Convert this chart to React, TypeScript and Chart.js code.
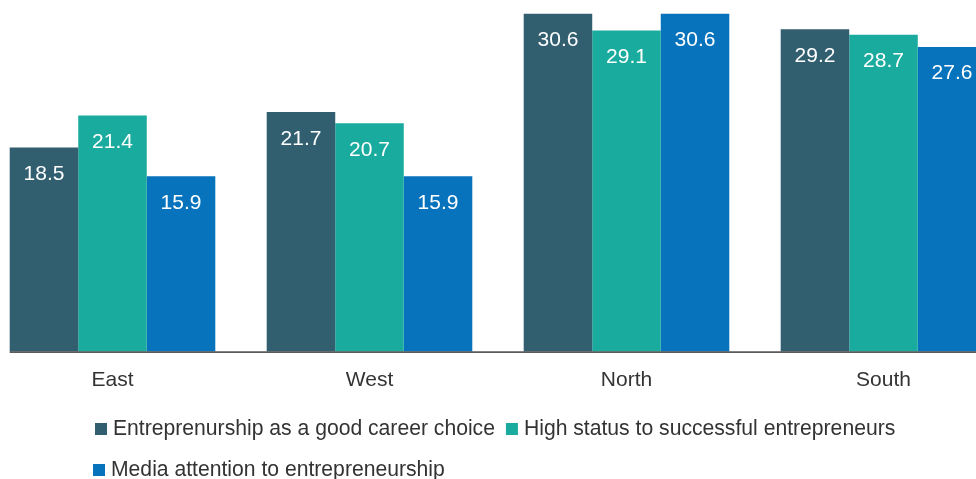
import React, { useEffect, useRef } from "react";
import { Chart, registerables } from "chart.js";

Chart.register(...registerables);

const categories = ["East", "West", "North", "South"];
const seriesNames = [
  "Entreprenurship as a good career choice",
  "High status to successful entrepreneurs",
  "Media attention to entrepreneurship",
];
const careerChoice = [18.5, 21.7, 30.6, 29.2];
const highStatus = [21.4, 20.7, 29.1, 28.7];
const mediaAttention = [15.9, 15.9, 30.6, 27.6];
const seriesColors = ["#325f70", "#1aab9f", "#0773bc"];

const FONT = "'Liberation Sans', Arial, Helvetica, sans-serif";
const CANVAS_LEFT = -16;
const CANVAS_W = 1028;
const CANVAS_H = 479;

const valueLabelPlugin = {
  id: "valueLabels",
  afterDatasetsDraw(chart: any) {
    const ctx = chart.ctx;
    ctx.save();
    ctx.font = `21px ${FONT}`;
    ctx.fillStyle = "#ffffff";
    ctx.textAlign = "center";
    ctx.textBaseline = "alphabetic";
    chart.data.datasets.forEach((ds: any, di: number) => {
      const meta = chart.getDatasetMeta(di);
      meta.data.forEach((bar: any, i: number) => {
        const v = ds.data[i];
        ctx.fillText(v.toFixed(1), bar.x, bar.y + 32.5);
      });
    });
    ctx.restore();
  },
};

const axisLinePlugin = {
  id: "axisLine",
  afterDatasetsDraw(chart: any) {
    const ctx = chart.ctx;
    const first: any = chart.getDatasetMeta(0).data[0];
    const x0 = first.x - first.width / 2;
    const y = chart.chartArea.bottom;
    ctx.save();
    ctx.strokeStyle = "#5a5a5a";
    ctx.lineWidth = 1.6;
    ctx.beginPath();
    ctx.moveTo(x0, y + 0.3);
    ctx.lineTo(chart.width, y + 0.3);
    ctx.stroke();
    ctx.restore();
  },
};

const legendPlugin = {
  id: "customLegend",
  afterDraw(chart: any) {
    const ctx = chart.ctx;
    const rowStarts = [95, 93];
    const rowCenters = [429, 470];
    const box = 12;
    const boxGap = 6;
    const itemGap = 11;
    const limit = 965;
    ctx.save();
    ctx.font = `21.15px ${FONT}`;
    ctx.textBaseline = "middle";
    ctx.textAlign = "left";
    let row = 0;
    let x = rowStarts[0];
    chart.data.datasets.forEach((ds: any, i: number) => {
      const tw = ctx.measureText(ds.label).width;
      const w = box + boxGap + tw;
      if (i > 0 && x + w > limit) {
        row += 1;
        x = rowStarts[Math.min(row, rowStarts.length - 1)];
      }
      const cy = rowCenters[Math.min(row, rowCenters.length - 1)];
      const cx = x - CANVAS_LEFT;
      ctx.fillStyle = ds.backgroundColor;
      ctx.fillRect(cx, cy - box / 2, box, box);
      ctx.fillStyle = "#333333";
      ctx.fillText(ds.label, cx + box + boxGap, cy);
      x += w + itemGap;
    });
    ctx.restore();
  },
};

export default function App() {
  const canvasRef = useRef<HTMLCanvasElement | null>(null);

  useEffect(() => {
    if (!canvasRef.current) return;
    Chart.defaults.font.family = FONT;
    const chart = new Chart(canvasRef.current, {
      type: "bar",
      data: {
        labels: categories,
        datasets: [
          { label: seriesNames[0], data: careerChoice, backgroundColor: seriesColors[0] },
          { label: seriesNames[1], data: highStatus, backgroundColor: seriesColors[1] },
          { label: seriesNames[2], data: mediaAttention, backgroundColor: seriesColors[2] },
        ],
      },
      options: {
        responsive: false,
        animation: false,
        devicePixelRatio: 1,
        layout: { padding: { top: 0, left: 0, right: 0, bottom: 70 } },
        datasets: {
          bar: { categoryPercentage: 0.8, barPercentage: 1.0, borderWidth: 0 },
        },
        scales: {
          x: {
            grid: { display: false, drawTicks: false },
            border: { display: false },
            ticks: { color: "#333333", font: { size: 21, family: FONT }, padding: 16 },
          },
          y: { display: false, min: 0, max: 31.85 },
        },
        plugins: {
          legend: { display: false },
          tooltip: { enabled: false },
        },
      },
      plugins: [valueLabelPlugin, axisLinePlugin, legendPlugin],
    });
    return () => chart.destroy();
  }, []);

  return (
    <div
      style={{
        position: "fixed",
        left: 0,
        top: 0,
        width: 976,
        height: 479,
        overflow: "hidden",
        background: "#ffffff",
      }}
    >
      <canvas
        ref={canvasRef}
        width={CANVAS_W}
        height={CANVAS_H}
        style={{ position: "absolute", left: CANVAS_LEFT, top: 0, width: CANVAS_W, height: CANVAS_H }}
      />
    </div>
  );
}
